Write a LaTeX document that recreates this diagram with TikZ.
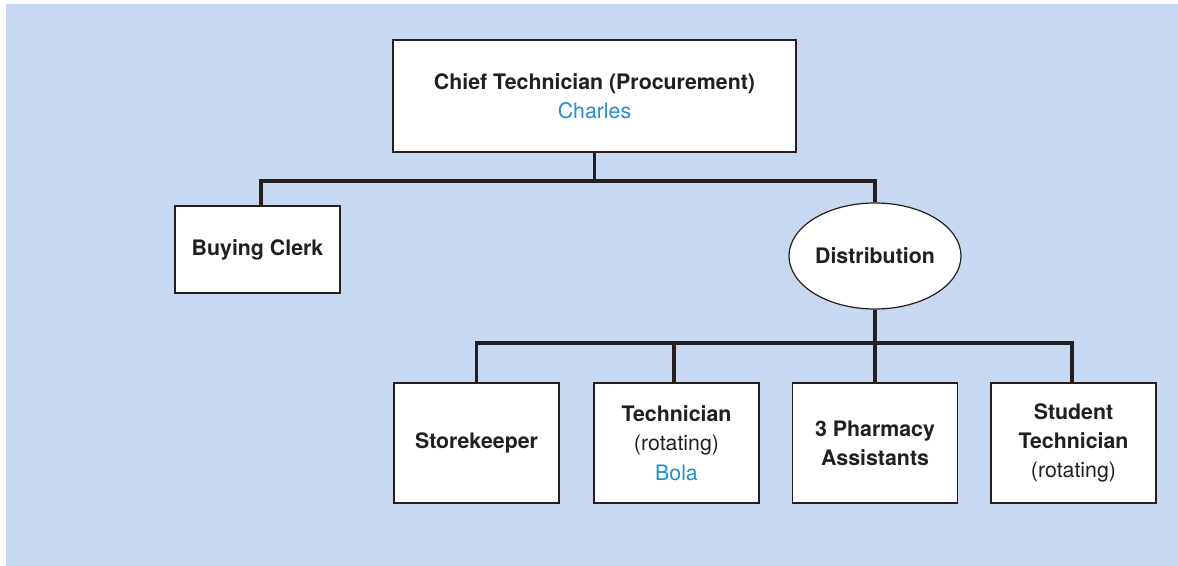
\documentclass[tikz,border=0pt]{standalone}
\usepackage{fontspec}
\setmainfont{TeX Gyre Heros}
\usetikzlibrary{shapes.geometric}
\definecolor{bgblue}{RGB}{200,216,240}
\definecolor{namblue}{RGB}{36,142,207}
\definecolor{inkgray}{RGB}{35,31,32}
\begin{document}
\begin{tikzpicture}[x=0.75pt,y=0.75pt,yscale=-1,xscale=1,
  post/.style={draw=inkgray,line width=0.9pt,fill=white,inner sep=0pt,align=center,text=inkgray,font=\fontsize{16pt}{22pt}\selectfont},
  conn/.style={draw=inkgray,line width=2.4pt}]
%set diagram size 1178 x 566
\useasboundingbox (0,0) rectangle (1178,566);
%Background
\fill [bgblue] (6,4) rectangle (1178,566);

% Text Node
\draw (594.5,96) node [post,minimum width=302.25pt,minimum height=84pt] (chief) {\textbf{Chief Technician (Procurement)}\\\textcolor{namblue}{Charles}};
% Text Node
\draw (257.5,249.5) node [post,minimum width=123.75pt,minimum height=65.25pt] (clerk) {\textbf{Buying Clerk}};
% Text Node
\draw (875,256) node [post,ellipse,minimum width=129pt,minimum height=79.5pt] (dist) {\textbf{Distribution}};
% Text Node
\draw (476.5,443) node [post,minimum width=123.75pt,minimum height=90pt] (store) {\textbf{Storekeeper}};
% Text Node
\draw (676.5,443) node [post,minimum width=123.75pt,minimum height=90pt] (tech) {\textbf{Technician}\\(rotating)\\\textcolor{namblue}{Bola}};
% Text Node
\draw (875,443) node [post,minimum width=123.75pt,minimum height=90pt] (pharm) {\textbf{3 Pharmacy}\\\textbf{Assistants}};
% Text Node
\draw (1073.5,443) node [post,minimum width=123.75pt,minimum height=90pt] (student) {\textbf{Student}\\\textbf{Technician}\\(rotating)};

%Straight Lines
\coordinate (topbus) at (594.5,181);
\draw [conn] (chief.south) -- (topbus);
\draw [conn] (topbus) -| ([xshift=2.6pt]clerk.north);
\draw [conn] (topbus) -| (dist.north);
%Straight Lines
\coordinate (lowbus) at (875,343);
\draw [conn] (dist.south) -- (lowbus);
\draw [conn] (lowbus) -| (store.north);
\draw [conn] (lowbus) -| ([xshift=-1.9pt]tech.north);
\draw [conn] (lowbus) -- (pharm.north);
\draw [conn] (lowbus) -| ([xshift=-1.1pt]student.north);

\end{tikzpicture}
\end{document}
